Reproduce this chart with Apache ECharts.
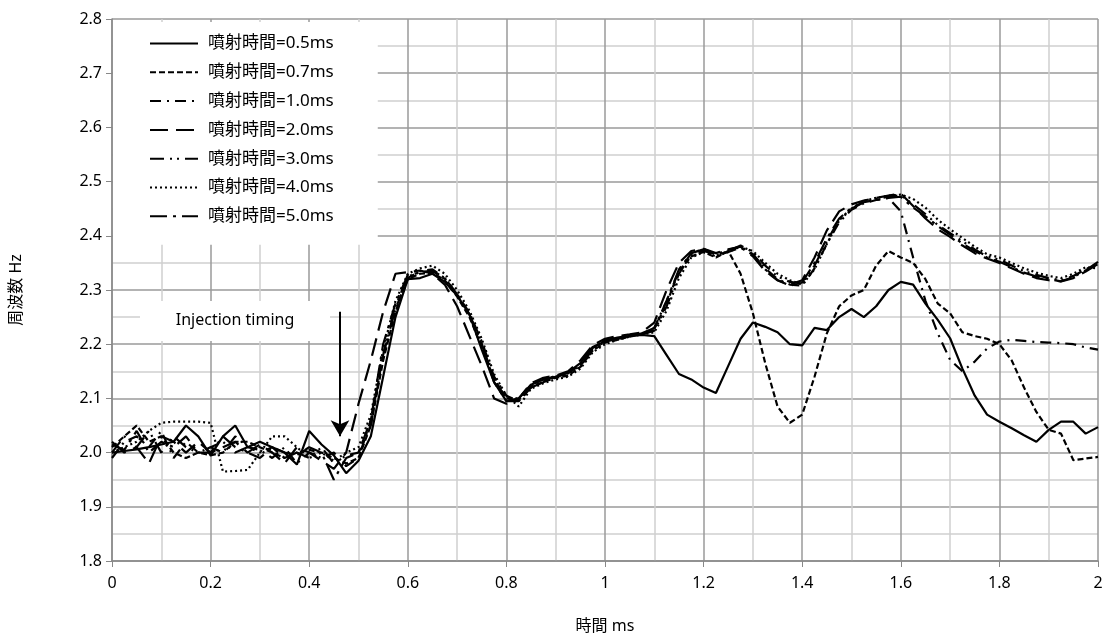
<!DOCTYPE html>
<html>
<head>
<meta charset="utf-8">
<script src="https://cdn.jsdelivr.net/npm/echarts@6/dist/echarts.min.js"></script>
<style>
  html, body { margin: 0; padding: 0; background: #fff; }
  #chart { width: 1111px; height: 643px; }
</style>
</head>
<body>
<div id="chart"></div>
<script>
// time axis (ms)
var xs = [0, 0.025, 0.05, 0.075, 0.1, 0.125, 0.15, 0.175, 0.2, 0.225,
  0.25, 0.275, 0.3, 0.325, 0.35, 0.375, 0.4, 0.425, 0.45, 0.475,
  0.5, 0.525, 0.55, 0.575, 0.6, 0.625, 0.65, 0.675, 0.7, 0.725,
  0.75, 0.775, 0.8, 0.825, 0.85, 0.875, 0.9, 0.925, 0.95, 0.975,
  1, 1.025, 1.05, 1.075, 1.1, 1.125, 1.15, 1.175, 1.2, 1.225,
  1.25, 1.275, 1.3, 1.325, 1.35, 1.375, 1.4, 1.425, 1.45, 1.475,
  1.5, 1.525, 1.55, 1.575, 1.6, 1.625, 1.65, 1.675, 1.7, 1.725,
  1.75, 1.775, 1.8, 1.825, 1.85, 1.875, 1.9, 1.925, 1.95, 1.975, 2];

var names = ["噴射時間=0.5ms", "噴射時間=0.7ms", "噴射時間=1.0ms", "噴射時間=2.0ms",
  "噴射時間=3.0ms", "噴射時間=4.0ms", "噴射時間=5.0ms"];

var s05 = [2.000,2.003,2.006,2.010,2.015,2.020,2.050,2.030,1.995,2.030,2.050,2.010,2.020,2.010,2.000,1.978,2.040,2.015,1.995,1.962,1.985,
  2.030,2.140,2.250,2.320,2.322,2.330,2.315,2.290,2.255,2.190,2.130,2.095,2.100,
  2.125,2.135,2.140,2.148,2.165,2.195,2.205,2.210,2.215,2.217,2.215,2.180,2.145,2.135,2.120,2.110,
  2.160,2.210,2.240,2.232,2.222,2.200,2.198,2.230,2.226,2.250,2.265,2.250,2.270,2.300,2.315,2.310,
  2.275,2.245,2.211,2.155,2.105,2.070,2.057,2.045,2.032,2.020,2.042,2.057,2.057,2.035,2.047];

var s07 = [2.010,2.030,2.050,2.020,2.030,2.000,1.990,2.000,1.995,2.000,2.020,2.020,2.010,2.000,1.990,2.000,2.005,2.000,1.990,1.980,1.990,
  2.050,2.170,2.260,2.320,2.330,2.332,2.318,2.288,2.250,2.195,2.135,2.100,2.098,
  2.122,2.130,2.138,2.142,2.158,2.188,2.203,2.208,2.214,2.220,2.228,2.275,2.335,2.362,2.370,2.360,
  2.372,2.330,2.257,2.165,2.085,2.055,2.070,2.140,2.220,2.270,2.290,2.300,2.345,2.372,2.360,2.350,
  2.320,2.275,2.257,2.222,2.215,2.210,2.200,2.170,2.120,2.075,2.042,2.035,1.986,1.989,1.992];

var s10 = [1.990,2.020,2.030,2.010,2.040,1.990,2.020,2.000,2.010,2.000,2.030,2.010,2.005,1.990,2.010,1.980,2.000,1.990,2.000,1.975,1.990,
  2.060,2.180,2.265,2.322,2.335,2.338,2.322,2.292,2.258,2.205,2.140,2.105,2.095,
  2.120,2.132,2.142,2.146,2.162,2.192,2.207,2.212,2.216,2.219,2.230,2.280,2.335,2.368,2.376,2.366,
  2.374,2.380,2.366,2.340,2.320,2.310,2.308,2.340,2.385,2.425,2.448,2.460,2.466,2.470,
  2.445,2.360,2.280,2.220,2.171,2.150,2.168,2.192,2.205,2.208,2.206,2.204,2.203,2.202,2.200,2.194,2.190];

var s20 = [2.020,2.000,2.010,1.980,2.030,2.020,2.000,2.020,2.000,2.010,2.020,2.000,2.015,2.000,1.980,2.010,2.000,1.985,1.970,2.000,2.090,
  2.170,2.260,2.330,2.333,2.336,2.330,2.310,2.270,2.215,2.160,2.100,2.090,2.100,
  2.128,2.138,2.142,2.150,2.170,2.198,2.210,2.215,2.218,2.222,2.240,2.300,2.350,2.372,2.376,2.368,
  2.375,2.380,2.362,2.335,2.318,2.310,2.318,2.360,2.410,2.445,2.458,2.465,2.470,2.474,2.478,2.455,
  2.432,2.412,2.398,2.382,2.368,2.358,2.350,2.340,2.330,2.322,2.318,2.316,2.322,2.334,2.348];

var s30 = [2.000,2.030,2.010,2.040,2.000,2.030,2.010,2.000,2.010,2.020,2.000,2.010,2.000,2.010,1.990,2.000,1.990,2.010,1.980,1.995,2.000,
  2.050,2.180,2.270,2.325,2.333,2.335,2.320,2.290,2.255,2.200,2.135,2.100,2.100,
  2.125,2.135,2.140,2.145,2.160,2.190,2.205,2.210,2.215,2.218,2.225,2.270,2.330,2.365,2.373,2.363,
  2.372,2.382,2.370,2.345,2.325,2.315,2.312,2.345,2.390,2.430,2.450,2.462,2.468,2.472,2.475,2.458,
  2.440,2.420,2.405,2.390,2.375,2.362,2.356,2.345,2.335,2.328,2.322,2.318,2.326,2.338,2.350];

var s40 = [2.000,2.010,2.020,2.040,2.055,2.057,2.057,2.057,2.055,1.965,1.966,1.968,2.000,2.030,2.030,2.010,1.990,2.000,1.985,2.000,2.010,
  2.070,2.190,2.280,2.330,2.340,2.345,2.330,2.300,2.262,2.210,2.145,2.105,2.085,
  2.118,2.128,2.135,2.140,2.155,2.185,2.200,2.208,2.214,2.218,2.222,2.262,2.322,2.360,2.370,2.362,
  2.370,2.380,2.372,2.350,2.330,2.318,2.310,2.338,2.385,2.428,2.450,2.464,2.470,2.474,2.476,2.468,
  2.452,2.430,2.412,2.396,2.380,2.366,2.360,2.350,2.340,2.332,2.326,2.322,2.330,2.342,2.340];

var s50 = [2.015,2.005,2.040,2.000,2.020,2.010,2.030,2.000,2.000,2.030,2.010,2.000,1.990,2.010,2.000,1.995,2.010,2.000,1.950,1.990,2.000,
  2.060,2.200,2.275,2.328,2.332,2.336,2.322,2.292,2.255,2.200,2.130,2.095,2.095,
  2.120,2.130,2.140,2.147,2.163,2.193,2.207,2.212,2.216,2.220,2.230,2.280,2.338,2.368,2.375,2.365,
  2.370,2.378,2.365,2.338,2.318,2.308,2.314,2.350,2.395,2.432,2.452,2.462,2.466,2.470,2.472,2.452,
  2.436,2.418,2.402,2.386,2.372,2.360,2.352,2.342,2.332,2.325,2.320,2.316,2.324,2.336,2.352];

var allY = [s05, s07, s10, s20, s30, s40, s50];
var dashes = ["solid", [6, 3], [11, 6, 2, 6], [18, 8], [14, 6, 2, 5, 2, 6], [2, 3], [17, 6, 3, 6]];

var myChart = echarts.init(document.getElementById("chart"));
var font = "Noto Sans, Noto Sans CJK JP, sans-serif";

var series = allY.map(function (ys, k) {
  var s = {
    name: names[k],
    type: "line",
    symbol: "none",
    animation: false,
    data: xs.map(function (x, i) { return [x, ys[i]]; }),
    lineStyle: { color: "#000", width: 2.2, type: dashes[k] },
    itemStyle: { color: "#000" },
    z: 3
  };
  if (k === 0) {
    s.markLine = {
      silent: true,
      symbol: ["none", "arrow"],
      symbolSize: [14, 16],
      label: { show: false },
      lineStyle: { color: "#000", width: 2, type: "solid" },
      data: [[{ coord: [0.4625, 2.26] }, { coord: [0.4625, 2.03] }]]
    };
    s.markPoint = {
      silent: true,
      symbol: "rect",
      symbolSize: [190, 40],
      itemStyle: { color: "#fff" },
      label: { show: true, color: "#000", fontSize: 16, fontFamily: font, formatter: "Injection timing" },
      data: [{ coord: [0.2495, 2.243] }]
    };
  }
  return s;
});

var option = {
  animation: false,
  backgroundColor: "#fff",
  grid: { left: 112, right: 13, top: 19, bottom: 82 },
  legend: {
    data: names,
    orient: "vertical",
    left: 113,
    top: 22,
    itemWidth: 48,
    itemHeight: 14,
    itemGap: 11.8,
    padding: [13, 44, 20, 36],
    backgroundColor: "#fff",
    selectedMode: false,
    itemStyle: { opacity: 0 },
    textStyle: { fontSize: 17, color: "#000", fontFamily: font, padding: [0, 0, 0, 5] }
  },
  xAxis: {
    type: "value",
    min: 0,
    max: 2,
    interval: 0.2,
    name: "時間 ms",
    nameLocation: "middle",
    nameGap: 57,
    nameTextStyle: { fontSize: 16, color: "#000", fontFamily: font },
    axisLine: { lineStyle: { color: "#888", width: 1.5 } },
    axisTick: { show: true, length: 6, lineStyle: { color: "#888" } },
    axisLabel: { fontSize: 16, color: "#000", margin: 14, fontFamily: font },
    splitLine: { show: true, lineStyle: { color: "#9a9a9a", width: 1.5 } },
    minorTick: { show: false, splitNumber: 2 },
    minorSplitLine: { show: true, lineStyle: { color: "#cfcfcf", width: 1.5 } }
  },
  yAxis: {
    type: "value",
    min: 1.8,
    max: 2.8,
    interval: 0.1,
    name: "周波数 Hz",
    nameLocation: "middle",
    nameGap: 88,
    nameTextStyle: { fontSize: 16, color: "#000", fontFamily: font },
    axisLine: { show: true, lineStyle: { color: "#888", width: 1.5 } },
    axisTick: { show: true, length: 6, lineStyle: { color: "#888" } },
    axisLabel: {
      fontSize: 16, color: "#000", margin: 10, fontFamily: font,
      formatter: function (v) { return v.toFixed(1); }
    },
    splitLine: { show: true, lineStyle: { color: "#9a9a9a", width: 1.5 } },
    minorTick: { show: false, splitNumber: 2 },
    minorSplitLine: { show: true, lineStyle: { color: "#cfcfcf", width: 1.5 } }
  },
  series: series
};

option && myChart.setOption(option);
</script>
</body>
</html>
